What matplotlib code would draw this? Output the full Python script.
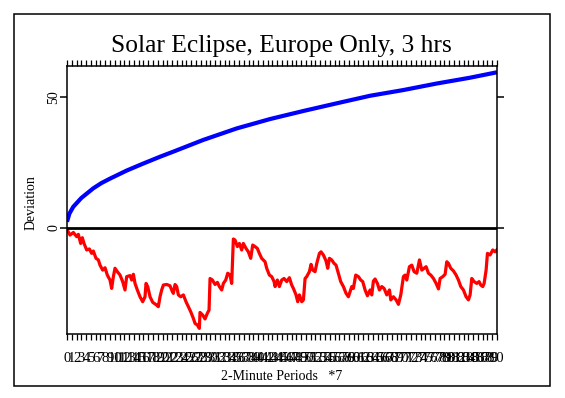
import matplotlib
matplotlib.use("Agg")
import matplotlib.pyplot as plt
from matplotlib.patches import Rectangle

plt.rcParams['font.family'] = ['Liberation Serif', 'DejaVu Serif']

title = "Solar Eclipse, Europe Only, 3 hrs"
xlabel = "2-Minute Periods   *7"
ylabel = "Deviation"
xticks = list(range(0, 91))
yticks = [0, 50]

# blue curve
blue_x = [0, 0.5, 1.3, 3, 5.5, 7.2, 9, 12.5, 16, 19.5, 22.5, 28.5, 35.5, 42.5,
          49.5, 56.4, 63.4, 70.4, 77.4, 84.3, 90]
blue_y = [2.4, 5.5, 8.1, 11.5, 15.2, 17.2, 18.9, 22.0, 24.7, 27.3, 29.4, 33.7, 38.1, 41.7,
          44.8, 47.7, 50.6, 52.8, 55.3, 57.5, 59.6]

# red curve
red_x = [0.07, 0.63, 1.33, 2.02, 2.37, 2.86, 3.21, 3.56, 4.12, 4.68, 5.16, 5.51,
         6.07, 6.56, 6.91, 7.47, 7.96, 8.44, 9.00, 9.35, 9.70, 10.05, 10.54, 11.1,
         11.65, 12.14, 12.49, 13.19, 13.54, 13.89, 14.24, 14.72, 15.28, 15.84, 16.33,
         16.54, 16.89, 17.38, 17.93, 18.77, 19.12, 19.47, 19.82, 20.17, 20.87, 21.56,
         21.91, 22.26, 22.61, 22.96, 23.31, 23.80, 24.36, 24.91, 25.40, 25.89, 26.45,
         26.80, 27.28, 27.70, 27.84, 28.40, 28.89, 29.38, 29.73, 29.94, 30.43, 30.99,
         31.48, 31.89, 32.38, 32.73, 33.22, 33.64, 34.12, 34.47, 34.82, 35.17, 35.66,
         36.08, 36.56, 36.91, 37.47, 37.96, 38.45, 38.87, 39.35, 39.84, 40.26, 40.75,
         41.45, 41.80, 42.36, 42.85, 43.34, 43.55, 44.03, 44.45, 44.94, 45.43, 45.99,
         46.55, 47.03, 47.38, 47.94, 48.29, 48.64, 49.13, 49.48, 49.83, 50.17, 50.73,
         51.08, 51.43, 51.92, 52.27, 52.83, 53.17, 53.66, 54.22, 54.57, 54.92, 55.40,
         55.89, 56.31, 56.80, 57.29, 57.85, 58.41, 58.90, 59.25, 59.60, 59.94, 60.43,
         60.99, 61.48, 61.90, 62.39, 62.88, 63.44, 63.79, 64.13, 64.48, 64.97, 65.39,
         65.88, 66.37, 66.93, 67.49, 67.77, 68.32, 68.88, 69.37, 69.86, 70.41, 70.76,
         71.11, 71.67, 72.16, 72.65, 73.21, 73.77, 74.26, 74.75, 75.16, 75.65, 76.14,
         76.70, 77.26, 77.75, 78.09, 78.65, 79.14, 79.49, 79.83, 80.32, 80.88, 81.44,
         81.93, 82.42, 82.97, 83.53, 84.02, 84.37, 84.72, 85.21, 85.76, 86.25, 86.60,
         87.02, 87.30, 87.72, 88.00, 88.56, 89.11, 89.60, 89.95]
red_y = [-0.8, -2.7, -1.7, -3.3, -2.4, -5.9, -3.7, -5.9, -8.4, -8.0, -9.7, -8.8,
         -11.6, -12.2, -14.2, -16.1, -15.2, -18.0, -19.9, -23.1, -18.6, -15.4, -16.7, -18.0,
         -20.5, -23.7, -18.6, -18.2, -19.9, -17.7, -21.2, -23.7, -26.3, -28.2, -26.3,
         -21.2, -22.4, -26.3, -28.4, -29.5, -30.1, -26.3, -23.7, -21.8, -21.6, -22.1,
         -23.7, -25.0, -21.6, -22.4, -25.6, -26.3, -25.6, -28.2, -30.1, -32.0, -34.6,
         -36.5, -37.1, -38.4, -32.3, -33.3, -34.8, -32.6, -31.4, -19.3, -19.9, -21.6,
         -20.8, -22.4, -23.7, -21.2, -19.9, -17.3, -18.0, -21.2, -4.2, -4.6, -7.1,
         -5.9, -8.4, -5.9, -7.8, -9.1, -11.6, -6.5, -7.1, -7.8, -9.7, -11.6,
         -12.9, -15.4, -18.0, -18.6, -20.5, -22.4, -19.9, -22.4, -19.9, -19.3, -20.5,
         -19.0, -21.8, -23.1, -25.6, -28.2, -25.6, -28.2, -27.5, -19.3, -18.6, -16.7,
         -13.9, -16.1, -16.7, -13.6, -9.7, -9.1, -10.3, -12.6, -15.4, -11.6, -12.2,
         -13.5, -14.2, -17.3, -20.5, -22.4, -25.0, -26.3, -24.4, -22.4, -23.1, -18.0,
         -18.6, -19.9, -20.5, -23.7, -25.9, -23.7, -25.6, -20.3, -19.5, -21.2, -23.7,
         -22.4, -23.1, -25.6, -23.7, -27.5, -26.3, -27.5, -29.2, -25.6, -18.6, -18.0,
         -19.9, -14.8, -14.2, -16.7, -17.3, -12.2, -16.1, -15.4, -14.8, -17.3, -18.0,
         -19.3, -21.2, -23.3, -19.3, -18.6, -17.7, -12.9, -13.5, -15.4, -16.4, -18.0,
         -19.9, -22.4, -23.7, -26.3, -27.5, -25.6, -19.3, -20.5, -21.2, -20.5, -21.8,
         -22.4, -21.2, -16.1, -9.7, -10.3, -8.4, -9.1, -8.4]

W, H = 565, 398
fig = plt.figure(figsize=(W / 100, H / 100), dpi=100)
fig.patch.set_facecolor('white')

# outer frame
fig.patches.append(Rectangle((14 / W, 1 - 386 / H), 536 / W, 372 / H,
                             transform=fig.transFigure, fill=False,
                             edgecolor='black', linewidth=1.1))

ax = fig.add_axes([67 / W, 1 - 334 / H, 430 / W, 268 / H])
ax.plot(blue_x, blue_y, color='#0000ff', linewidth=3.0, solid_capstyle='butt')
ax.plot(red_x, red_y, color='#ff0000', linewidth=2.3)
ax.axhline(0, color='black', linewidth=2.0)

ax.set_xlim(0, 90)
ax.set_ylim(-40.55, 62.0)
for s in ax.spines.values():
    s.set_linewidth(1.1)

ax.set_xticks(xticks)
ax.set_xticklabels([str(t) for t in xticks], fontsize=10.5)
ax.tick_params(axis='x', which='both', direction='out', length=4, width=0.9,
               top=True, pad=9)
ax.set_yticks(yticks)
ax.set_yticklabels([str(t) for t in yticks], fontsize=10, rotation=90, va='center')
ax.tick_params(axis='y', direction='out', length=5, width=1.1, right=True, pad=0)

fig.text(281 / W, 1 - 51.7 / H, title, fontsize=18.4, ha='center', va='baseline')
fig.text(282 / W, 1 - 376 / H, xlabel, fontsize=10, ha='center', va='center')
fig.text(31 / W, 1 - 203 / H, ylabel, fontsize=10, ha='center', va='center',
         rotation=90)

fig.savefig('out.png', dpi=100, facecolor='white')
